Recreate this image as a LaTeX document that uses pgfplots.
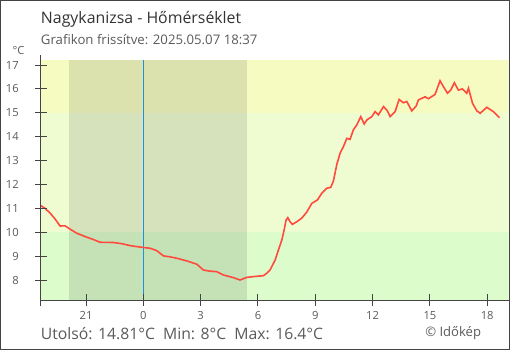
\documentclass[border=0pt]{standalone}
\usepackage{fontspec}
\setmainfont{Open Sans}
\usepackage{pgfplots}
\pgfplotsset{compat=1.18}
\definecolor{bandY}{HTML}{F6FCC1}
\definecolor{bandM}{HTML}{EFFCD2}
\definecolor{bandG}{HTML}{DCFCCC}
\definecolor{axisgray}{HTML}{444444}
\definecolor{txtgray}{HTML}{5A5A5A}
\definecolor{titlegray}{HTML}{333333}
\definecolor{midblue}{HTML}{1F8FE0}
\definecolor{curve}{HTML}{FF4A3D}
\begin{document}
\begin{tikzpicture}
\begin{axis}[
  at={(0,0)}, anchor=south west,
  scale only axis, width=350.7pt, height=180pt,
  xmin=-5.36, xmax=19.12, ymin=7.163, ymax=17.21,
  axis x line*=bottom, axis y line*=left,
  axis line style={-, draw=axisgray, line width=0.75pt},
  y axis line style={shorten <=-4.5pt, shorten >=-3.75pt},
  tick style={draw=axisgray, line width=0.75pt},
  major tick length=9pt, tick align=center,
  xtick={-3,0,3,6,9,12,15,18},
  xticklabels={21,0,3,6,9,12,15,18},
  ytick={8,9,...,17},
  /pgf/number format/assume math mode=true,
  tick label style={font=\fontsize{8.4}{10}\selectfont, text=txtgray, inner sep=0pt},
  xticklabel style={anchor=north, yshift=-3.75pt},
  yticklabel style={anchor=east, xshift=-12pt},
  axis on top,
  clip=true,
]
\fill[bandG] (axis cs:-5.36,7.163) rectangle (axis cs:19.12,10);
\fill[bandM] (axis cs:-5.36,10) rectangle (axis cs:19.12,15);
\fill[bandY] (axis cs:-5.36,15) rectangle (axis cs:19.12,17.21);
\fill[black, opacity=0.1] (axis cs:-3.89,7.163) rectangle (axis cs:5.41,17.21);
\draw[midblue, line width=1pt] (axis cs:0,7.163) -- (axis cs:0,17.21);
\addplot[curve, line width=1.2pt] table {
x y
-5.36 11.11
-5.15 11.00
-4.88 10.80
-4.62 10.55
-4.36 10.26
-4.10 10.27
-3.84 10.13
-3.49 9.96
-2.96 9.79
-2.63 9.70
-2.27 9.58
-1.57 9.57
-1.12 9.52
-0.70 9.44
0.00 9.36
0.35 9.33
0.70 9.23
1.05 9.01
1.40 8.97
1.75 8.91
2.27 8.80
2.80 8.66
3.14 8.42
3.49 8.37
3.84 8.35
4.19 8.21
4.71 8.10
5.06 8.00
5.41 8.11
5.85 8.15
6.28 8.18
6.46 8.28
6.63 8.42
6.90 8.84
7.07 9.26
7.25 9.68
7.37 10.10
7.47 10.51
7.56 10.61
7.68 10.44
7.80 10.33
8.03 10.44
8.29 10.59
8.55 10.84
8.82 11.21
9.11 11.35
9.34 11.63
9.60 11.84
9.81 11.88
9.95 12.15
10.13 12.85
10.30 13.31
10.47 13.58
10.65 13.93
10.82 13.89
10.99 14.28
11.17 14.49
11.38 14.84
11.56 14.53
11.70 14.70
11.96 14.84
12.13 15.05
12.30 14.91
12.57 15.26
12.76 15.10
12.92 14.84
13.18 15.05
13.39 15.56
13.61 15.42
13.79 15.47
14.05 15.08
14.28 15.28
14.40 15.54
14.75 15.67
14.92 15.59
15.27 15.77
15.53 16.34
15.71 16.09
15.92 15.82
16.09 15.95
16.28 16.26
16.49 15.95
16.70 16.00
16.93 15.82
17.02 16.03
17.23 15.40
17.46 15.08
17.63 14.98
17.98 15.23
18.32 15.05
18.50 14.91
18.64 14.80
};
\end{axis}
\begin{scope}[x=0.75pt, y=0.75pt]
\node[anchor=base west, inner sep=0pt, text=titlegray, font=\fontsize{11.9}{14}\selectfont] at (-0.3,276) {Nagykanizsa - Hőmérséklet};
\node[anchor=base west, inner sep=0pt, text=txtgray, font=\fontsize{9.9}{12}\selectfont] at (-0.3,255) {Grafikon frissítve: 2025.05.07 18:37};
\node[anchor=base, inner sep=0pt, text=txtgray, font=\fontsize{8.4}{10}\selectfont] at (-22.5,245) {°C};
\node[anchor=base west, inner sep=0pt, text=txtgray, font=\fontsize{11.8}{14}\selectfont] at (-0.3,-39.3) {Utolsó: 14.81°C\ \ Min: 8°C\ \ Max: 16.4°C};
\node[anchor=base west, inner sep=0pt, text=txtgray, font=\fontsize{9.8}{12}\selectfont] at (384,-36) {© Időkép};
\draw[axisgray, line width=0.75pt] (-40.5,-49.5) rectangle (468.5,299.5);
\pgfresetboundingbox
\path[use as bounding box] (-41,-50) rectangle (469,300);
\end{scope}
\end{tikzpicture}
\end{document}
